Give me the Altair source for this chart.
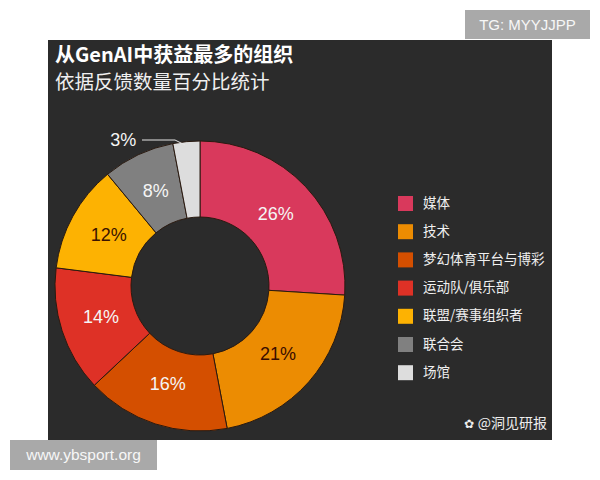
import altair as alt
import pandas as pd

# ---- data ----
categories = ["媒体", "技术", "梦幻体育平台与博彩", "运动队/俱乐部", "联盟/赛事组织者", "联合会", "场馆"]
values = [26, 21, 16, 14, 12, 8, 3]
colors = ["#d9395c", "#ec8c02", "#d44f00", "#de3126", "#fdb202", "#808080", "#dddddd"]
label_colors = ["#f5f5f5", "#3a0d00", "#f5f5f5", "#f5f5f5", "#3a1200", "#f5f5f5", "#f5f5f5"]
outside_label = [False, False, False, False, False, False, True]

title_text = "从GenAI中获益最多的组织"
subtitle_text = "依据反馈数量百分比统计"
source_text = "@洞见研报"
tg_text = "TG: MYYJJPP"
site_text = "www.ybsport.org"

df = pd.DataFrame({
    "cat": categories,
    "val": values,
    "idx": list(range(len(categories))),
    "inner": [("" if o else f"{v}%") for v, o in zip(values, outside_label)],
    "outer": [(f"{v}%" if o else "") for v, o in zip(values, outside_label)],
    "lc": label_colors,
})

CX, CY = 152, 246
one = pd.DataFrame({"t": [0]})

base = alt.Chart(df).encode(
    theta=alt.Theta("val:Q", stack=True),
    order=alt.Order("idx:Q"),
)

arcs = base.mark_arc(outerRadius=145, innerRadius=69, stroke="#2a1a10", strokeWidth=1).encode(
    x=alt.value(CX), y=alt.value(CY),
    color=alt.Color(
        "cat:N",
        scale=alt.Scale(domain=categories, range=colors),
        legend=alt.Legend(
            orient="none", legendX=350, legendY=156, title=None,
            symbolType="square", symbolSize=225, symbolStrokeWidth=0, symbolOpacity=1,
            labelColor="#f0f0f0", labelFont="Noto Sans CJK SC", labelFontSize=13.5,
            rowPadding=13.2, labelOffset=10, labelLimit=300,
        ),
    ),
)

inner_labels = base.mark_text(radius=104, font="Liberation Sans", fontSize=18).encode(
    x=alt.value(CX), y=alt.value(CY),
    text="inner:N",
    color=alt.Color("lc:N", scale=None),
)

outer_labels = base.mark_text(radius=146, dx=-63, font="Liberation Sans", fontSize=18, color="#f5f5f5").encode(
    x=alt.value(CX), y=alt.value(CY),
    text="outer:N",
)

lead1 = alt.Chart(one).mark_rule(color="#e6e6e6", strokeWidth=1).encode(
    x=alt.value(94), x2=alt.value(127), y=alt.value(100), y2=alt.value(100))
lead2 = alt.Chart(one).mark_rule(color="#e6e6e6", strokeWidth=1).encode(
    x=alt.value(127), x2=alt.value(137), y=alt.value(100), y2=alt.value(105))

title = alt.Chart(one).mark_text(
    align="left", baseline="middle", font="Noto Sans CJK SC", fontSize=20,
    fontWeight="bold", color="#ffffff").encode(
    x=alt.value(7), y=alt.value(16), text=alt.value(title_text))
subtitle = alt.Chart(one).mark_text(
    align="left", baseline="middle", font="Noto Sans CJK SC", fontSize=19.5,
    color="#f0f0f0").encode(
    x=alt.value(7), y=alt.value(43), text=alt.value(subtitle_text))

source = alt.Chart(one).mark_text(
    align="right", baseline="middle", font="Noto Sans CJK SC", fontSize=14,
    color="#eeeeee").encode(
    x=alt.value(499), y=alt.value(384), text=alt.value(source_text))
paw = alt.Chart(one).mark_text(
    align="center", baseline="middle", font="DejaVu Sans", fontSize=12,
    color="#eeeeee").encode(
    x=alt.value(421), y=alt.value(384), text=alt.value("✿"))

tg_box = alt.Chart(one).mark_rect(color="#a9a9a9").encode(
    x=alt.value(417), x2=alt.value(542), y=alt.value(-30), y2=alt.value(-1))
tg = alt.Chart(one).mark_text(
    align="center", baseline="middle", font="Liberation Sans", fontSize=15,
    color="#f7f7f7").encode(
    x=alt.value(479.5), y=alt.value(-15), text=alt.value(tg_text))

site_box = alt.Chart(one).mark_rect(color="#a9a9a9").encode(
    x=alt.value(-38), x2=alt.value(109), y=alt.value(400), y2=alt.value(430))
site = alt.Chart(one).mark_text(
    align="center", baseline="middle", font="Liberation Sans", fontSize=15.5,
    color="#f7f7f7").encode(
    x=alt.value(35.5), y=alt.value(415), text=alt.value(site_text))

chart = alt.layer(
    arcs, inner_labels, outer_labels, lead1, lead2, title, subtitle,
    source, paw, tg_box, tg, site_box, site,
).resolve_scale(color="independent").properties(
    width=504, height=400,
    autosize=alt.AutoSizeParams(type="none"),
    padding={"left": 40, "top": 32, "right": 40, "bottom": 32},
    background="#ffffff",
).configure_view(fill="#2b2b2b", stroke=None)

chart.save("out.html", embed_options={"renderer": "svg", "actions": False})
